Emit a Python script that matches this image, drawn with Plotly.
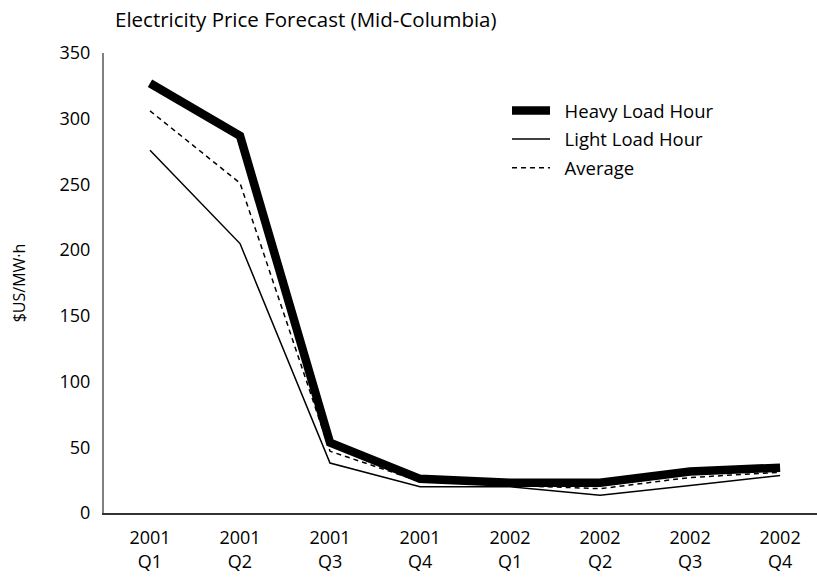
import plotly.graph_objects as go

categories = ["2001<br>Q1", "2001<br>Q2", "2001<br>Q3", "2001<br>Q4",
              "2002<br>Q1", "2002<br>Q2", "2002<br>Q3", "2002<br>Q4"]
heavy = [327, 287, 53.5, 26, 23, 23, 31.5, 34.5]
light = [276, 205, 38, 20, 20, 13.5, 21, 28.5]
average = [306, 251, 47, 24, 21, 18.5, 27, 31]
y_ticks = [0, 50, 100, 150, 200, 250, 300, 350]
series_names = ["\u00a0\u00a0Heavy Load Hour", "\u00a0\u00a0Light Load Hour", "\u00a0\u00a0Average"]

FONT = "Open Sans"
W, H = 817, 577
fig = go.Figure()
fig.add_trace(go.Scatter(x=categories, y=heavy, mode="lines", name=series_names[0],
                         legendgroup="a", line=dict(color="black", width=8.5)))
fig.add_trace(go.Scatter(x=categories, y=light, mode="lines", name=series_names[1],
                         legendgroup="b", line=dict(color="black", width=1.5)))
fig.add_trace(go.Scatter(x=categories, y=average, mode="lines", name=series_names[2],
                         legendgroup="c", line=dict(color="black", width=1.5, dash="5px,4px")))

fig.update_layout(
    width=W, height=H,
    margin=dict(l=104, r=0, t=53, b=64),
    paper_bgcolor="white", plot_bgcolor="white",
    font=dict(family=FONT, size=18, color="black"),
    title=dict(text="Electricity Price Forecast (Mid-Columbia)", x=115/W, xanchor="left",
               y=1 - 20/H, yanchor="middle", font=dict(size=20.5, family=FONT)),
    showlegend=True,
    legend=dict(x=(507-104)/713, xanchor="left", y=1 - (92-53)/460, yanchor="top",
                bgcolor="rgba(0,0,0,0)", font=dict(size=18.5), tracegroupgap=1.5,
                itemwidth=38),
    xaxis=dict(type="category", range=[-0.511, 7.41], showgrid=False, showline=True,
               linecolor="#333", linewidth=1.5, ticks="", tickfont=dict(size=18),
               ticklabelstandoff=8, zeroline=False),
    yaxis=dict(range=[0, 350], tickvals=y_ticks, showgrid=False, showline=True,
               linecolor="#808080", linewidth=2, ticks="", ticklabelstandoff=8,
               tickfont=dict(size=18), zeroline=False,
               title=dict(text="$US/MW·h", font=dict(size=16), standoff=30)),
)
fig.write_html("out.html", post_script="document.body.style.margin='0';",
               config={"displayModeBar": False})
